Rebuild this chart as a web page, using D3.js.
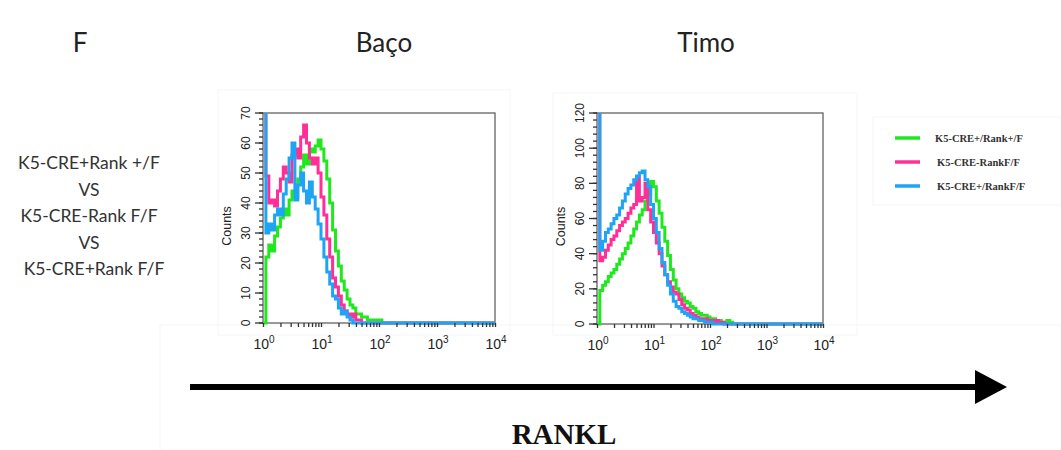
<!DOCTYPE html>
<html>
<head>
<meta charset="utf-8">
<script src="https://cdn.jsdelivr.net/npm/d3@7"></script>
<style>
  html, body { margin: 0; padding: 0; background: #fff; }
  svg { display: block; }
</style>
</head>
<body>
<svg id="fig" width="1061" height="450"></svg>
<script>
// Histogram channels, in decades of RANKL fluorescence (log10)
const channels = [0.00,0.05,0.10,0.15,0.20,0.25,0.30,0.35,0.40,0.45,0.50,0.55,0.60,0.65,0.70,0.75,0.80,0.85,0.90,0.95,
  1.00,1.05,1.10,1.15,1.20,1.25,1.30,1.35,1.40,1.45,1.50,1.55,1.60,1.65,1.70,1.75,1.80,1.85,1.90,1.95,
  2.00,2.05,2.10,2.15,2.20,2.25,2.30,2.35,2.40,2.45,2.50,4.00];

const seriesNames = ["K5-CRE+/Rank+/F", "K5-CRE-RankF/F", "K5-CRE+/RankF/F"];
const seriesColors = ["#1fe81f", "#ff2f97", "#1ea4f5"];

// Spleen (Baço) counts
const bacoGreen = [0,22,26,24,29,32,35,38,36,41,44,42,48,52,56,53,58,57,59,61,
  58,54,48,40,31,24,19,14,11,8,6,5,3,3,2,2,1,1,1,1,
  1,0,0,0,0,0,0,0,0,0,0,0];
const bacoPink = [200,49,40,41,39,44,48,52,50,47,56,58,55,62,66,60,55,53,55,50,
  42,36,28,22,15,12,9,6,4,3,2,3,1,1,0,0,0,0,0,0,
  0,0,0,0,0,0,0,0,0,0,0,0];
const bacoBlue = [200,30,33,31,36,38,36,43,48,55,60,41,46,50,44,40,47,42,38,33,
  28,22,17,13,9,8,5,3,4,2,1,0,0,0,0,0,0,0,0,0,
  0,0,0,0,0,0,0,0,0,0,0,0];

// Thymus (Timo) counts
const timoGreen = [0,19,22,24,27,29,31,34,37,40,43,46,50,54,58,62,65,70,74,81,
  78,70,63,55,47,39,31,25,20,17,15,13,12,10,9,7,6,5,5,4,
  3,3,2,2,1,1,2,1,0,0,0,0];
const timoPink = [200,36,38,42,45,48,50,53,56,58,60,63,66,68,84,70,72,80,65,58,
  52,46,40,33,28,24,21,18,17,14,11,9,8,6,5,4,3,3,3,2,
  2,1,2,1,1,0,0,0,0,0,0,0];
const timoBlue = [200,42,47,52,54,57,60,62,66,70,74,77,79,82,84,86,87,82,78,68,
  60,52,43,35,28,22,17,13,10,9,7,6,5,4,3,3,2,2,1,1,
  1,0,0,0,0,0,0,0,0,0,0,0];

const xTickDecades = [0, 1, 2, 3, 4];
const bacoYTicks = [0, 10, 20, 30, 40, 50, 60, 70];
const timoYTicks = [0, 20, 40, 60, 80, 100, 120];

const groupLines = ["K5-CRE+Rank +/F", "VS", "K5-CRE-Rank F/F", "VS", "K5-CRE+Rank F/F"];

const svg = d3.select("#fig");

// faint panel outlines behind the figure pieces
const panels = [
  {x: 218, y: 90, w: 292, h: 245},
  {x: 553, y: 93, w: 304, h: 242},
  {x: 873, y: 117, w: 188, h: 88},
  {x: 160, y: 325, w: 901, h: 125}
];
svg.selectAll("rect.panel").data(panels).join("rect")
  .attr("class", "panel")
  .attr("x", d => d.x).attr("y", d => d.y)
  .attr("width", d => d.w).attr("height", d => d.h)
  .attr("fill", "none").attr("stroke", "#f6f6f6").attr("stroke-width", 1);

// headings
const headFont = "Lato, 'Open Sans', sans-serif";
svg.append("text").attr("x", 80).attr("y", 52).attr("text-anchor", "middle")
  .attr("font-family", headFont).attr("font-size", 26).attr("fill", "#222").text("F");
svg.append("text").attr("x", 384).attr("y", 52).attr("text-anchor", "middle")
  .attr("font-family", headFont).attr("font-size", 26).attr("fill", "#222").text("Baço");
svg.append("text").attr("x", 706).attr("y", 52).attr("text-anchor", "middle")
  .attr("font-family", headFont).attr("font-size", 26).attr("fill", "#222").text("Timo");

// group comparison label
svg.append("g").selectAll("text").data(groupLines).join("text")
  .attr("x", (d, i) => i === 4 ? 94 : 89)
  .attr("y", (d, i) => 169 + i * 26.5)
  .attr("text-anchor", "middle")
  .attr("font-family", headFont).attr("font-size", 17.5).attr("fill", "#333")
  .text(d => d);

function drawHistogram(opts) {
  const {left, right, top, bottom, yMax, yTicks, yMinorStep, series, id} = opts;
  const g = svg.append("g");
  const x = d3.scaleLog().domain([1, 1e4]).range([left, right]);
  const y = d3.scaleLinear().domain([0, yMax]).range([bottom, top]);

  g.append("clipPath").attr("id", id).append("rect")
    .attr("x", left - 1).attr("y", top).attr("width", right - left + 2).attr("height", bottom - top + 2);

  // frame
  g.append("rect").attr("x", left).attr("y", top)
    .attr("width", right - left).attr("height", bottom - top)
    .attr("fill", "none").attr("stroke", "#555").attr("stroke-width", 1.2);

  const line = d3.line()
    .x((d, i) => x(Math.pow(10, channels[i])))
    .y(d => y(d))
    .curve(d3.curveStepAfter);

  const lines = g.append("g").attr("clip-path", `url(#${id})`);
  series.forEach((vals, k) => {
    lines.append("path").datum(vals)
      .attr("d", line)
      .attr("fill", "none")
      .attr("stroke", seriesColors[k])
      .attr("stroke-width", 3)
      .attr("stroke-linejoin", "miter");
  });

  // x axis: decade labels with log minor ticks
  const xAxis = d3.axisBottom(x)
    .tickValues(x.ticks())
    .tickSize(4)
    .tickFormat("");
  const xg = g.append("g").attr("transform", `translate(0,${bottom})`).call(xAxis);
  xg.select(".domain").remove();
  xg.selectAll("line").attr("stroke", "#333").attr("stroke-width", 1.3);

  const labels = g.append("g").selectAll("text").data(xTickDecades).join("text")
    .attr("x", d => x(Math.pow(10, d)) + 1)
    .attr("y", bottom + 26)
    .attr("text-anchor", "middle")
    .attr("font-family", "'Liberation Sans', Arial, sans-serif")
    .attr("font-size", 14)
    .attr("fill", "#222");
  labels.append("tspan").text("10");
  labels.append("tspan").attr("dy", -6).attr("font-size", 10).text(d => d);

  // y axis: major and minor ticks, rotated labels
  const minor = d3.range(0, yMax + 0.001, yMinorStep);
  g.append("g").selectAll("line").data(minor).join("line")
    .attr("x1", left - 4).attr("x2", left)
    .attr("y1", d => y(d)).attr("y2", d => y(d))
    .attr("stroke", "#333").attr("stroke-width", 1.3);
  g.append("g").selectAll("line").data(yTicks).join("line")
    .attr("x1", left - 8).attr("x2", left)
    .attr("y1", d => y(d)).attr("y2", d => y(d))
    .attr("stroke", "#333").attr("stroke-width", 1.3);
  g.append("g").selectAll("text").data(yTicks).join("text")
    .attr("transform", d => `translate(${left - 13},${y(d)}) rotate(-90)`)
    .attr("text-anchor", "middle")
    .attr("font-family", "'Liberation Sans', Arial, sans-serif")
    .attr("font-size", 12)
    .attr("fill", "#222")
    .text(d => d);

  g.append("text")
    .attr("transform", `translate(${left - 32},${(top + bottom) / 2 + 8}) rotate(-90)`)
    .attr("text-anchor", "middle")
    .attr("font-family", "'Liberation Sans', Arial, sans-serif")
    .attr("font-size", 12.5)
    .attr("fill", "#222")
    .text("Counts");
}

drawHistogram({
  id: "clipBaco", left: 263, right: 495, top: 113, bottom: 323,
  yMax: 70, yTicks: bacoYTicks, yMinorStep: 2,
  series: [bacoGreen, bacoPink, bacoBlue]
});
drawHistogram({
  id: "clipTimo", left: 597, right: 823, top: 113, bottom: 324,
  yMax: 120, yTicks: timoYTicks, yMinorStep: 4,
  series: [timoGreen, timoPink, timoBlue]
});

// legend
const legend = svg.append("g");
seriesNames.forEach((name, i) => {
  const yy = 138 + i * 24;
  legend.append("line").attr("x1", 895).attr("x2", 920).attr("y1", yy).attr("y2", yy)
    .attr("stroke", seriesColors[i]).attr("stroke-width", 3.5);
  legend.append("text").attr("x", i === 0 ? 935 : 937).attr("y", yy + 3.5)
    .attr("font-family", "'Liberation Serif', 'Times New Roman', serif")
    .attr("font-weight", "bold").attr("font-size", 10.5).attr("fill", "#333")
    .text(name);
});

// RANKL direction arrow
svg.append("line").attr("x1", 190).attr("x2", 978).attr("y1", 387).attr("y2", 387)
  .attr("stroke", "#000").attr("stroke-width", 6);
svg.append("path").attr("d", "M975,370 L1007,387 L975,404 Z").attr("fill", "#000");
svg.append("text").attr("x", 564).attr("y", 444).attr("text-anchor", "middle")
  .attr("font-family", "'Liberation Serif', 'Times New Roman', serif")
  .attr("font-weight", "bold").attr("font-size", 29).attr("fill", "#111")
  .text("RANKL");
</script>
</body>
</html>
